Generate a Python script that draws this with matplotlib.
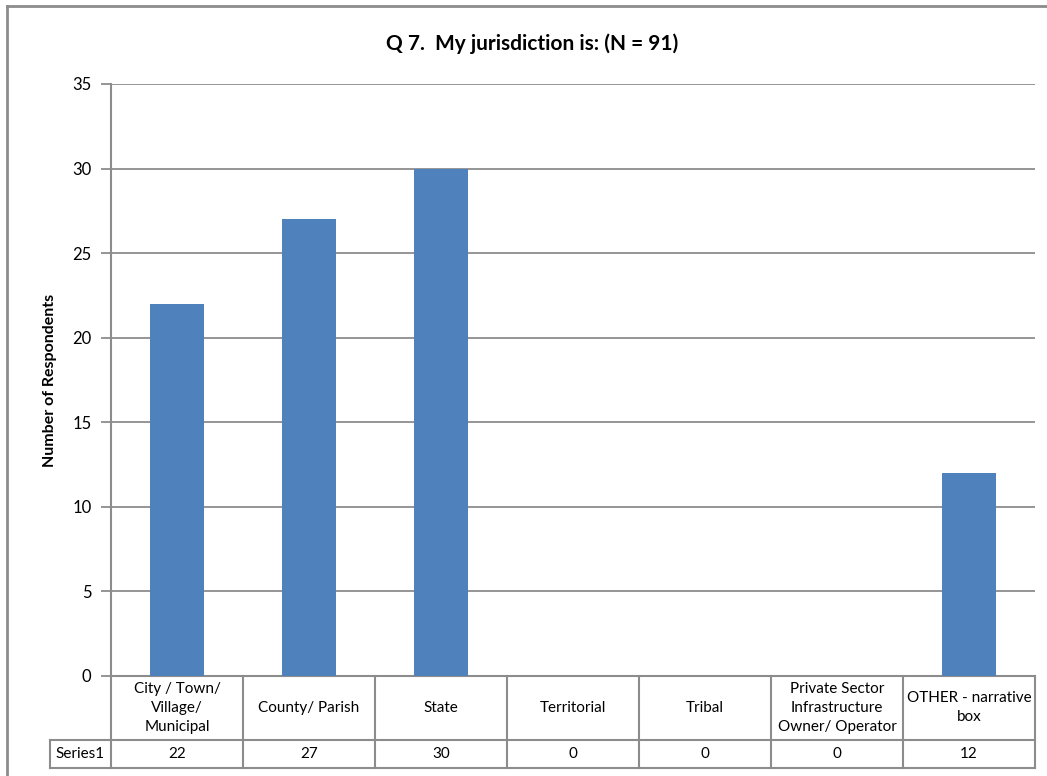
import matplotlib
matplotlib.use("Agg")
import matplotlib.pyplot as plt
from matplotlib.lines import Line2D
from matplotlib.transforms import blended_transform_factory

plt.rcParams['font.family'] = ['Lato', 'DejaVu Sans']

categories = ["City / Town/\nVillage/\nMunicipal", "County/ Parish", "State",
              "Territorial", "Tribal",
              "Private Sector\nInfrastructure\nOwner/ Operator",
              "OTHER - narrative\nbox"]
series_name = "Series1"
values = [22, 27, 30, 0, 0, 0, 12]
yticks = [0, 5, 10, 15, 20, 25, 30, 35]

bar_color = "#4F81BD"
line_color = "#8C8C8C"

fig = plt.figure(figsize=(10.47, 7.76), dpi=100)
ax = fig.add_axes([0.1060, 0.1289, 0.8825, 0.7629])

n = len(categories)
x = list(range(n))
ax.bar(x, values, width=0.41, color=bar_color, zorder=3)

ax.set_xlim(-0.5, n - 0.5)
ax.set_ylim(0, 35)
ax.set_yticks(yticks)
ax.set_yticklabels([str(t) for t in yticks], fontsize=12)
ax.set_xticks([])
ax.grid(axis='y', color=line_color, linewidth=1.3, zorder=0)
for side in ['top', 'right', 'bottom']:
    ax.spines[side].set_visible(False)
ax.spines['left'].set_color(line_color)
ax.spines['left'].set_linewidth(1.5)
ax.tick_params(axis='y', length=7, width=1.3, color=line_color, pad=7)

fig.text(532 / 1047, 1 - 44 / 776, "Q 7.  My jurisdiction is: (N = 91)",
         fontsize=15, fontweight='bold', ha='center', va='center')
ax.set_ylabel("Number of Respondents", fontsize=11.5, fontweight='bold', labelpad=11)

# data table beneath the axis
tr = blended_transform_factory(ax.transData, ax.transAxes)
y_top, y_mid, y_bot = 0.0, -0.1081, -0.1554
x_lbl = -0.962
lw = 1.5

def seg(xs, ys):
    ax.add_line(Line2D(xs, ys, transform=tr, color=line_color, linewidth=lw,
                       clip_on=False, solid_capstyle='projecting'))

seg([-0.5, n - 0.5], [y_top, y_top])
seg([x_lbl, n - 0.5], [y_mid, y_mid])
seg([x_lbl, n - 0.5], [y_bot, y_bot])
seg([x_lbl, x_lbl], [y_mid, y_bot])
for b in range(n + 1):
    seg([b - 0.5, b - 0.5], [y_top, y_bot])

for i, (cat, v) in enumerate(zip(categories, values)):
    ax.text(i, (y_top + y_mid) / 2, cat, transform=tr, ha='center', va='center',
            fontsize=11, linespacing=1.45, clip_on=False)
    ax.text(i, (y_mid + y_bot) / 2, str(v), transform=tr, ha='center', va='center',
            fontsize=11, clip_on=False)
ax.text((x_lbl - 0.5) / 2, (y_mid + y_bot) / 2, series_name, transform=tr,
        ha='center', va='center', fontsize=11, clip_on=False)

# outer chart border
fig.add_artist(Line2D([7 / 1047, 7 / 1047], [0, 1 - 6 / 776], transform=fig.transFigure,
                      color=line_color, linewidth=2))
fig.add_artist(Line2D([7 / 1047, 1], [1 - 6 / 776, 1 - 6 / 776], transform=fig.transFigure,
                      color=line_color, linewidth=2))

fig.savefig("out.png", dpi=100)
